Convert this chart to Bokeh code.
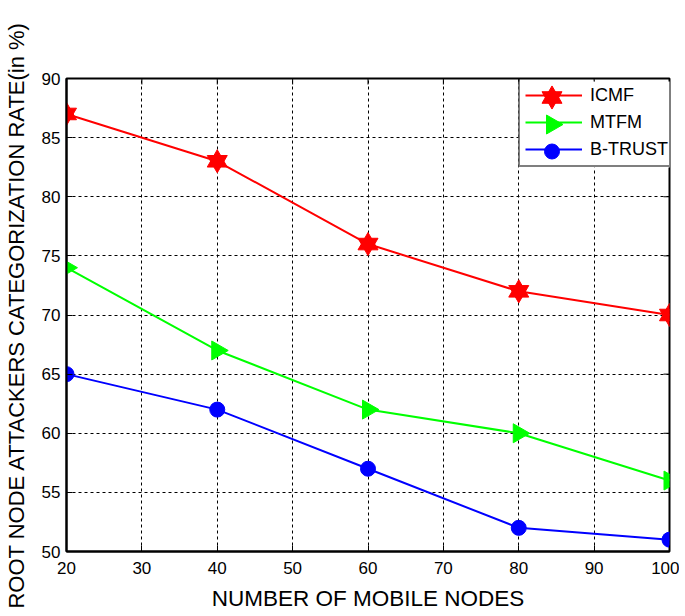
import numpy as np
from bokeh.plotting import figure
from bokeh.models import Range1d, Legend, LegendItem, FixedTicker
from bokeh.embed import file_html
from bokeh.resources import INLINE

nodes = [20, 40, 60, 80, 100]
icmf = [87, 83, 76, 72, 70]
mtfm = [74, 67, 62, 60, 56]
btrust = [65, 62, 57, 52, 51]
series_names = ["ICMF", "MTFM", "B-TRUST"]
x_ticks = [20, 30, 40, 50, 60, 70, 80, 90, 100]
y_ticks = [50, 55, 60, 65, 70, 75, 80, 85, 90]
x_min, x_max = 20, 100
y_min, y_max = 50, 90

FONT = "Liberation Sans"
FW, FH = 603, 473

p = figure(frame_width=FW, frame_height=FH, output_backend="svg", toolbar_location=None,
           x_range=Range1d(x_min, x_max), y_range=Range1d(y_min, y_max),
           min_border_left=65, min_border_right=10, min_border_top=78, min_border_bottom=10)
p.background_fill_color = "white"
p.border_fill_color = "white"
p.outline_line_color = "black"
p.outline_line_width = 2

for ax in (p.xaxis[0], p.yaxis[0]):
    ax.major_label_text_font = FONT
    ax.major_label_text_font_size = "17px"
    ax.major_label_text_color = "black"
    ax.axis_label_text_font = FONT
    ax.axis_label_text_font_style = "normal"
    ax.axis_label_text_color = "black"
    ax.major_tick_in = 6
    ax.major_tick_out = 0
    ax.minor_tick_in = 0
    ax.minor_tick_out = 0
    ax.axis_line_width = 2
    ax.major_tick_line_width = 1

p.xaxis[0].axis_label_text_font_size = "22.5px"
p.yaxis[0].axis_label_text_font_size = "22px"
p.xaxis[0].ticker = FixedTicker(ticks=x_ticks)
p.yaxis[0].ticker = FixedTicker(ticks=y_ticks)
p.xaxis[0].axis_label = "NUMBER OF MOBILE NODES"
p.yaxis[0].axis_label = "ROOT NODE ATTACKERS CATEGORIZATION RATE(in %)"
p.xaxis[0].major_label_standoff = 10
p.yaxis[0].major_label_standoff = 6
p.xaxis[0].axis_label_standoff = 9
p.yaxis[0].axis_label_standoff = 10

# inner ticks on top and right edges
p.ray(x=x_ticks, y=[y_max] * len(x_ticks), length=6, length_units="screen",
      angle=-np.pi / 2, line_color="black", line_width=1)
p.ray(x=[x_max] * len(y_ticks), y=y_ticks, length=6, length_units="screen",
      angle=np.pi, line_color="black", line_width=1)

p.xgrid.ticker = FixedTicker(ticks=x_ticks)
p.ygrid.ticker = FixedTicker(ticks=y_ticks)
for g in (p.xgrid[0], p.ygrid[0]):
    g.grid_line_color = "black"
    g.grid_line_dash = "3 3"
    g.grid_line_width = 1
    g.grid_line_alpha = 1.0

red, green, blue = "#FF0000", "#00FF00", "#0000FF"
STAR, TRI, CIRC = 20, 19, 15

l1 = p.line(nodes, icmf, color=red, line_width=2)
p.scatter(nodes, icmf, marker="triangle", size=STAR, fill_color=red, line_color=red)
p.scatter(nodes, icmf, marker="inverted_triangle", size=STAR, fill_color=red, line_color=red)

l2 = p.line(nodes, mtfm, color=green, line_width=2)
p.scatter(nodes, mtfm, marker="triangle", angle=-np.pi / 2, size=TRI,
          fill_color=green, line_color=green)

l3 = p.line(nodes, btrust, color=blue, line_width=2)
p.scatter(nodes, btrust, marker="circle", size=CIRC, fill_color=blue, line_color=blue)

# legend box (screen layout relative to the frame)
LEG_LEFT, LEG_TOP = 452, 3          # px from frame left / frame top
PAD, GW, GH, SP = 5, 57, 22, 5
LEG_H = 2 * PAD + 3 * GH + 2 * SP
LEG_W = 152


def px_to_x(px):
    return x_min + px / FW * (x_max - x_min)


def px_to_y(py):
    return y_max - py / FH * (y_max - y_min)


# white backing for the legend (legend itself is transparent so keys show on top)
p.rect([px_to_x(LEG_LEFT + LEG_W / 2)], [px_to_y(LEG_TOP + LEG_H / 2)],
       width=LEG_W, height=LEG_H, width_units="screen", height_units="screen",
       fill_color="white", line_color=None)

legend = Legend(items=[
    LegendItem(label=series_names[0], renderers=[l1]),
    LegendItem(label=series_names[1], renderers=[l2]),
    LegendItem(label=series_names[2], renderers=[l3]),
], location=(LEG_LEFT, FH - LEG_TOP - LEG_H))
legend.label_text_font = FONT
legend.label_text_font_size = "18px"
legend.label_text_color = "black"
legend.border_line_color = "black"
legend.border_line_width = 2
legend.background_fill_alpha = 0
legend.glyph_width = GW
legend.glyph_height = GH
legend.spacing = SP
legend.padding = PAD
legend.margin = 0
legend.label_standoff = 8
p.add_layout(legend, "center")

# large legend key markers
kx = px_to_x(LEG_LEFT + PAD + GW / 2)
ky = [px_to_y(LEG_TOP + PAD + GH / 2 + i * (GH + SP)) for i in range(3)]
for mk in ("triangle", "inverted_triangle"):
    p.scatter([kx], [ky[0]], marker=mk, size=STAR, fill_color=red, line_color=red)
p.scatter([kx], [ky[1]], marker="triangle", angle=-np.pi / 2, size=TRI,
          fill_color=green, line_color=green)
p.scatter([kx], [ky[2]], marker="circle", size=CIRC, fill_color=blue, line_color=blue)

open("out.html", "w").write(file_html(p, INLINE))
